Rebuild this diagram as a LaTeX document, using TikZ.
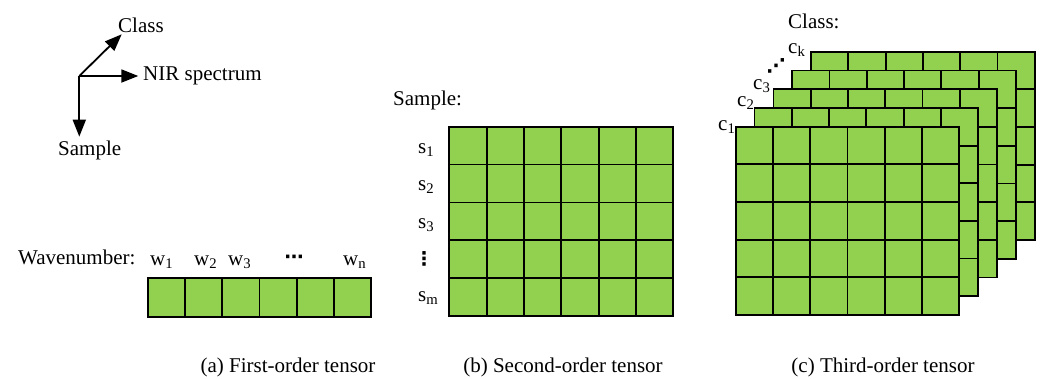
\documentclass[tikz,border=0pt]{standalone}
\usepackage{fontspec}
\setmainfont{Liberation Serif}
\newfontfamily\dotsfont{DejaVu Sans}
\usetikzlibrary{arrows.meta}
\definecolor{cellgreen}{RGB}{146,208,80}
\begin{document}
\begin{tikzpicture}[x=1pt,y=-1pt,
  txt/.style={inner sep=0pt,anchor=base west,font=\fontsize{21}{24}\selectfont},
  captiontext/.style={inner sep=0pt,anchor=base,font=\fontsize{21}{24}\selectfont},
  dotmark/.style={inner sep=0pt,anchor=center,font=\dotsfont\bfseries\fontsize{19}{21}\selectfont},
  cell/.style={fill=cellgreen,draw=black,line width=1.8pt},
  axis/.style={line width=1.8pt,-{Triangle[length=17pt,width=13pt]}}]
\useasboundingbox (0,0) rectangle (1041,378);

% coordinate axes
\coordinate (o) at (79.3,76);
\coordinate (classtip) at (121.7,34.3);
\coordinate (nirtip) at (138.3,76);
\coordinate (sampletip) at (79.3,136.7);
\draw[axis] (o) -- (classtip);
\draw[axis] (o) -- (nirtip);
\draw[axis] (o) -- (sampletip);
\node[txt] (lclass) at (118,32) {Class};
\node[txt] (lnir) at (143,80) {NIR spectrum};
\node[txt] (lsample) at (58,155) {Sample};

% (a) first-order tensor: one row of wavenumbers
\foreach \i in {0,...,5}
  \draw[cell] ({148+\i*37.17},278) rectangle ++(37.17,39);
\node[txt] (lwave) at (18,264) {Wavenumber:};
\node[txt] (w1) at (150,265) {w\textsubscript{1}};
\node[txt] (w2) at (194,265) {w\textsubscript{2}};
\node[txt] (w3) at (228,265) {w\textsubscript{3}};
\node[dotmark] (wdots) at (294,259) {⋯};
\node[txt] (wn) at (343,265) {w\textsubscript{n}};
\node[captiontext] (capa) at (288,372) {(a) First-order tensor};

% (b) second-order tensor: samples x wavenumbers
\foreach \i in {0,...,5}
  \foreach \j in {0,...,4}
    \draw[cell] ({449.3+\i*37.33},{126.7+\j*37.86}) rectangle ++(37.33,37.86);
\node[txt] (lsamp) at (393,105) {Sample:};
\node[txt] (s1) at (418,153) {s\textsubscript{1}};
\node[txt] (s2) at (418,190.5) {s\textsubscript{2}};
\node[txt] (s3) at (418,228.5) {s\textsubscript{3}};
\node[dotmark] (sdots) at (424,258.5) {⋮};
\node[txt] (sm) at (418,301.5) {s\textsubscript{m}};
\node[captiontext] (capb) at (563,372) {(b) Second-order tensor};

% (c) third-order tensor: stacked class slices, back to front
\foreach \k in {4,3,2,1,0}
  \foreach \i in {0,...,5}
    \foreach \j in {0,...,4}
      \draw[cell] ({735.7+\k*18.85+\i*37.27},{126.7-\k*18.75+\j*37.66}) rectangle ++(37.27,37.66);
\node[txt] (lcls) at (788,28) {Class:};
\node[txt] (c1) at (718,130.5) {c\textsubscript{1}};
\node[txt] (c2) at (737,106.5) {c\textsubscript{2}};
\node[txt] (c3) at (753,89) {c\textsubscript{3}};
\node[dotmark] (cdots) at (776,66) {⋰};
\node[txt] (ck) at (788,53) {c\textsubscript{k}};
\node[captiontext] (capc) at (883,372) {(c) Third-order tensor};
\end{tikzpicture}
\end{document}
